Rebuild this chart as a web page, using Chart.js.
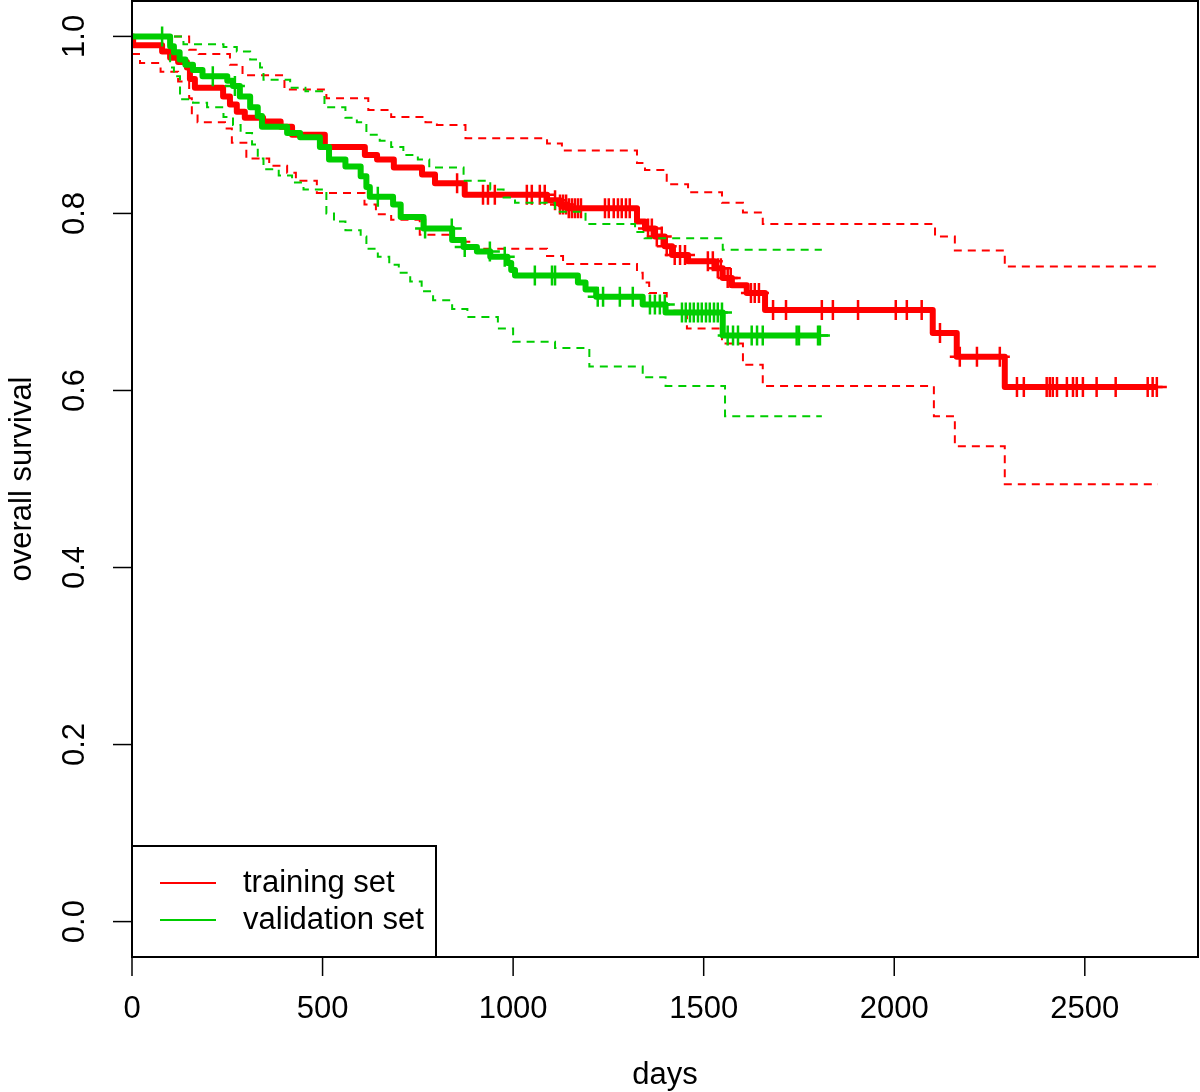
<!DOCTYPE html>
<html lang="en">
<head>
<meta charset="UTF-8">
<title>overall survival</title>
<script src="https://cdn.jsdelivr.net/npm/chart.js"></script>
<style>
    body { margin: 0; background: #fff; }
</style>
</head>
<body>
<canvas id="myChart" width="1200" height="1092"></canvas>
<script>
// axis ticks
const xTicks = [0, 500, 1000, 1500, 2000, 2500];
const yTicks = [0, 0.2, 0.4, 0.6, 0.8, 1.0];

// training set (red): KM estimate, value drops to surv[i] at time[i]
const trainTime = [0, 3, 79, 100, 121, 144, 152, 165, 239, 257, 275, 296, 344, 390, 420, 506, 611, 643, 687, 761, 795, 873, 1089, 1123, 1141, 1325, 1346, 1372, 1398, 1417, 1459, 1529, 1550, 1574, 1613, 1661, 2101, 2164, 2290, 2689];
const trainSurv = [1, 0.99, 0.983, 0.976, 0.971, 0.965, 0.952, 0.942, 0.932, 0.923, 0.915, 0.908, 0.904, 0.898, 0.889, 0.875, 0.866, 0.861, 0.852, 0.844, 0.834, 0.821, 0.815, 0.81, 0.806, 0.791, 0.783, 0.774, 0.763, 0.753, 0.746, 0.738, 0.727, 0.719, 0.71, 0.691, 0.665, 0.638, 0.604, 0.604];
const trainCensor = [853, 921, 934, 952, 1036, 1049, 1070, 1083, 1110, 1123, 1131, 1139, 1146, 1154, 1162, 1170, 1178, 1241, 1251, 1264, 1275, 1285, 1296, 1306, 1354, 1364, 1377, 1390, 1403, 1424, 1438, 1451, 1511, 1524, 1537, 1545, 1563, 1571, 1624, 1634, 1645, 1682, 1716, 1810, 1839, 1905, 2004, 2033, 2072, 2120, 2172, 2217, 2277, 2322, 2340, 2400, 2408, 2416, 2427, 2453, 2469, 2479, 2495, 2531, 2581, 2665, 2678, 2689];
const trainUpTime = [0, 150, 175, 257, 290, 400, 510, 620, 680, 770, 800, 875, 1089, 1128, 1325, 1346, 1403, 1459, 1548, 1603, 1655, 2107, 2159, 2290, 2692];
const trainUpVal = [1, 0.985, 0.98, 0.968, 0.956, 0.94, 0.93, 0.917, 0.909, 0.903, 0.9, 0.885, 0.879, 0.871, 0.857, 0.849, 0.833, 0.824, 0.812, 0.801, 0.788, 0.774, 0.758, 0.74, 0.74];
const trainLowTime = [0, 21, 75, 121, 150, 157, 172, 244, 262, 300, 360, 407, 430, 485, 610, 640, 680, 755, 845, 885, 1089, 1131, 1325, 1340, 1357, 1403, 1456, 1548, 1603, 1655, 2104, 2159, 2290, 2692];
const trainLowVal = [0.98, 0.97, 0.96, 0.949, 0.93, 0.912, 0.903, 0.896, 0.88, 0.862, 0.854, 0.846, 0.837, 0.823, 0.81, 0.799, 0.793, 0.776, 0.768, 0.76, 0.752, 0.743, 0.733, 0.722, 0.71, 0.69, 0.67, 0.653, 0.629, 0.605, 0.571, 0.537, 0.494, 0.494];

// validation set (green)
const validTime = [0, 100, 110, 125, 140, 160, 185, 250, 265, 283, 310, 330, 341, 407, 441, 493, 517, 560, 600, 615, 624, 685, 705, 765, 840, 870, 905, 940, 985, 995, 1005, 1170, 1190, 1218, 1340, 1400, 1550, 1805];
const validSurv = [1, 0.989, 0.982, 0.974, 0.968, 0.962, 0.955, 0.95, 0.944, 0.932, 0.92, 0.91, 0.898, 0.891, 0.886, 0.875, 0.861, 0.853, 0.842, 0.83, 0.819, 0.81, 0.796, 0.783, 0.77, 0.762, 0.757, 0.751, 0.744, 0.736, 0.73, 0.722, 0.714, 0.706, 0.697, 0.688, 0.662, 0.662];
const validCensor = [79, 212, 270, 645, 769, 839, 873, 939, 978, 1057, 1102, 1110, 1222, 1236, 1280, 1314, 1359, 1372, 1385, 1398, 1443, 1453, 1464, 1474, 1485, 1495, 1506, 1516, 1527, 1537, 1548, 1563, 1577, 1590, 1626, 1640, 1655, 1744, 1750, 1800, 1805];
const validUpTime = [0, 135, 240, 275, 310, 336, 345, 415, 455, 505, 560, 590, 615, 650, 680, 712, 750, 780, 870, 940, 975, 1005, 1110, 1190, 1320, 1345, 1550, 1810];
const validUpVal = [1, 0.991, 0.988, 0.983, 0.974, 0.965, 0.951, 0.942, 0.938, 0.92, 0.908, 0.903, 0.889, 0.882, 0.875, 0.866, 0.861, 0.852, 0.837, 0.827, 0.818, 0.812, 0.802, 0.788, 0.779, 0.772, 0.759, 0.759];
const validLowTime = [0, 100, 110, 126, 160, 197, 240, 265, 285, 315, 330, 345, 385, 420, 450, 510, 530, 560, 600, 615, 645, 675, 700, 730, 760, 790, 840, 880, 960, 1000, 1110, 1200, 1340, 1400, 1556, 1810];
const validLowVal = [1, 0.965, 0.955, 0.929, 0.925, 0.92, 0.909, 0.9, 0.891, 0.878, 0.862, 0.85, 0.843, 0.835, 0.827, 0.8, 0.791, 0.781, 0.774, 0.76, 0.751, 0.742, 0.733, 0.723, 0.712, 0.702, 0.692, 0.683, 0.67, 0.655, 0.648, 0.627, 0.615, 0.605, 0.571, 0.571];

const RED = '#FF0000';
const GREEN = '#00CD00';

function steps(times, vals) {
    return times.map((t, i) => ({ x: t, y: vals[i] }));
}
// value of a step curve at time t
function survAt(times, vals, t) {
    let v = vals[0];
    for (let i = 0; i < times.length; i++) {
        if (times[i] <= t) v = vals[i];
    }
    return v;
}
function marks(cens, times, vals) {
    return cens.map(t => ({ x: t, y: survAt(times, vals, t) }));
}

function curve(data, color, order, label) {
    return { label: label, data: data, borderColor: color, borderWidth: 6, stepped: true,
        pointRadius: 0, fill: false, order: order, inLegend: true, borderJoinStyle: 'round' };
}
function band(data, color, order) {
    return { data: data, borderColor: color, borderWidth: 2, borderDash: [8, 6], stepped: true,
        pointRadius: 0, fill: false, order: order };
}
function cens(data, color, order) {
    return { data: data, showLine: false, pointStyle: 'cross', pointRadius: 10, pointHoverRadius: 10,
        pointBorderWidth: 2.5, pointBorderColor: color, borderColor: color, order: order };
}

const axesPlugin = {
    id: 'rAxes',
    afterDraw(chart) {
        const ctx = chart.ctx;
        const a = chart.chartArea;
        const x = chart.scales.x, y = chart.scales.y;
        const font = '31px "Liberation Sans", Arial, Helvetica, sans-serif';
        ctx.save();
        ctx.strokeStyle = '#000';
        ctx.fillStyle = '#000';
        ctx.lineWidth = 2;
        ctx.strokeRect(a.left, a.top, a.right - a.left, a.bottom - a.top);

        ctx.font = font;
        ctx.lineWidth = 1.5;
        ctx.textAlign = 'center';
        ctx.textBaseline = 'middle';
        // x axis
        xTicks.forEach(v => {
            const px = x.getPixelForValue(v);
            ctx.beginPath(); ctx.moveTo(px, a.bottom); ctx.lineTo(px, a.bottom + 19); ctx.stroke();
            ctx.fillText(String(v), px, 1009);
        });
        ctx.fillText('days', (a.left + a.right) / 2, 1075);
        // y axis
        yTicks.forEach(v => {
            const py = y.getPixelForValue(v);
            ctx.beginPath(); ctx.moveTo(a.left, py); ctx.lineTo(a.left - 19, py); ctx.stroke();
            ctx.save();
            ctx.translate(75, py);
            ctx.rotate(-Math.PI / 2);
            ctx.fillText(v.toFixed(1), 0, 0);
            ctx.restore();
        });
        ctx.save();
        ctx.translate(22, (a.top + a.bottom) / 2);
        ctx.rotate(-Math.PI / 2);
        ctx.fillText('overall survival', 0, 0);
        ctx.restore();

        // legend box, bottom left
        const items = chart.data.datasets.filter(d => d.inLegend)
            .sort((p, q) => q.order - p.order);
        ctx.fillStyle = '#fff';
        ctx.fillRect(a.left, 846, 436 - a.left, a.bottom - 846);
        ctx.lineWidth = 2;
        ctx.strokeRect(a.left, 846, 436 - a.left, a.bottom - 846);
        ctx.textAlign = 'left';
        items.forEach((d, i) => {
            const ly = 883 + i * 37;
            ctx.strokeStyle = d.borderColor;
            ctx.lineWidth = 2;
            ctx.beginPath(); ctx.moveTo(160, ly); ctx.lineTo(216, ly); ctx.stroke();
            ctx.fillStyle = '#000';
            ctx.fillText(d.label, 243, ly);
        });
        ctx.restore();
    }
};

new Chart(document.getElementById('myChart'), {
    type: 'line',
    data: {
        datasets: [
            cens(marks(validCensor, validTime, validSurv), GREEN, 0),
            curve(steps(validTime, validSurv), GREEN, 1, 'validation set'),
            band(steps(validUpTime, validUpVal), GREEN, 2),
            band(steps(validLowTime, validLowVal), GREEN, 2),
            cens(marks(trainCensor, trainTime, trainSurv), RED, 3),
            curve(steps(trainTime, trainSurv), RED, 4, 'training set'),
            band(steps(trainUpTime, trainUpVal), RED, 5),
            band(steps(trainLowTime, trainLowVal), RED, 5)
        ]
    },
    options: {
        responsive: false,
        animation: false,
        layout: { autoPadding: false, padding: { left: 132, top: 1, right: 2, bottom: 135 } },
        scales: {
            x: { type: 'linear', min: 0, max: 2797, display: false },
            y: { min: -0.04, max: 1.04, display: false }
        },
        plugins: { legend: { display: false }, tooltip: { enabled: false } }
    },
    plugins: [axesPlugin]
});
</script>
</body>
</html>
